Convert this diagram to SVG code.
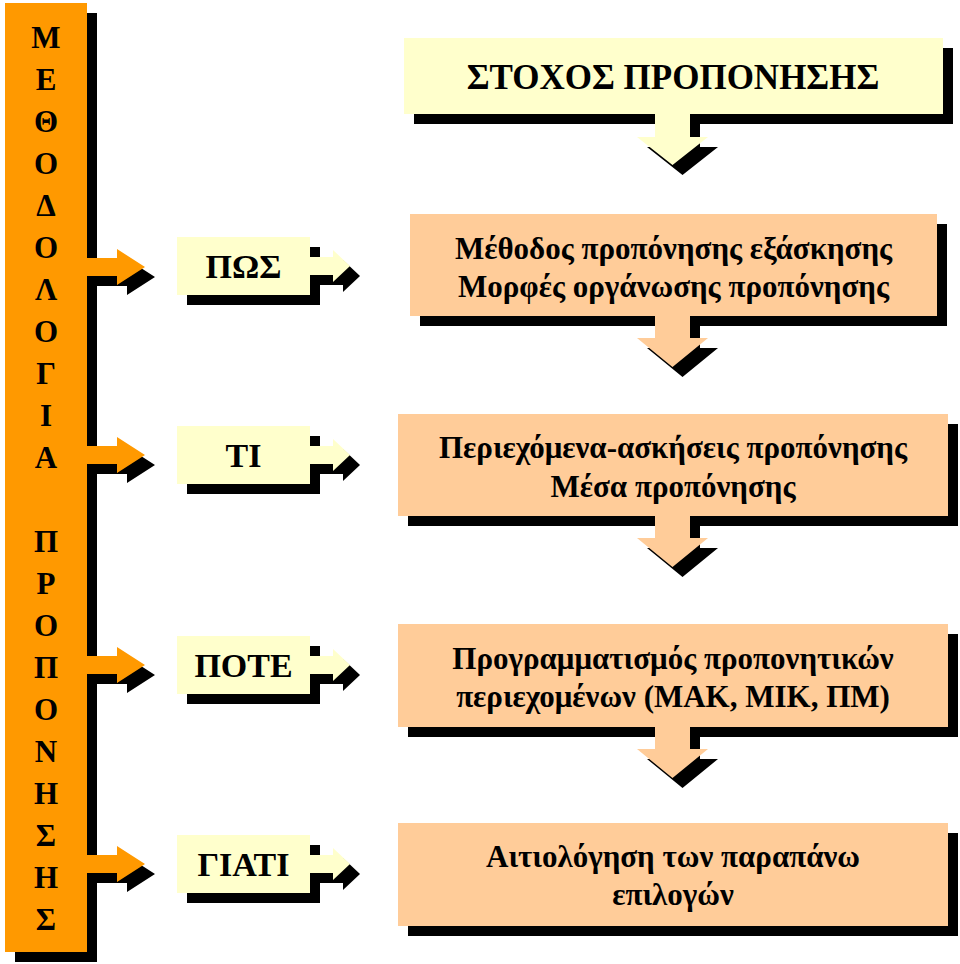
<svg xmlns="http://www.w3.org/2000/svg" width="960" height="964" viewBox="0 0 960 964">
<style>
.sh{fill:#000}
.or{fill:#FF9900}
.ly{fill:#FFFFCC}
.pe{fill:#FFCC99}
.t{font-family:"Liberation Serif","DejaVu Serif",serif;font-weight:bold;fill:#000;text-anchor:middle}
.bar{font-size:31px}
.sm{font-size:34px}
.big{font-size:31px}
.ttl{font-size:35px}
</style>
<defs>
<path id="smallCallout" d="M177,-29 H310 V-9 H333 V-16 L350,0 L333,16 V9 H310 V29 H177 Z"/>
</defs>
<rect width="960" height="964" fill="#fff"/>
<g id="bar">
<path class="sh" transform="translate(10,10)" d="M5,3 H87 V258 H117 V249 L145,267 L117,285 V276 H87 V446 H117 V437 L145,455 L117,473 V464 H87 V656 H117 V647 L145,665 L117,683 V674 H87 V855 H117 V846 L145,864 L117,882 V873 H87 V952 H5 Z"/>
<path class="or" d="M5,3 H87 V258 H117 V249 L145,267 L117,285 V276 H87 V446 H117 V437 L145,455 L117,473 V464 H87 V656 H117 V647 L145,665 L117,683 V674 H87 V855 H117 V846 L145,864 L117,882 V873 H87 V952 H5 Z"/>
<text class="t bar"><tspan x="46" y="48">Μ</tspan><tspan x="46" y="90">Ε</tspan><tspan x="46" y="132">Θ</tspan><tspan x="46" y="174">Ο</tspan><tspan x="46" y="216">Δ</tspan><tspan x="46" y="258">Ο</tspan><tspan x="46" y="300">Λ</tspan><tspan x="46" y="342">Ο</tspan><tspan x="46" y="384">Γ</tspan><tspan x="46" y="426">Ι</tspan><tspan x="46" y="468">Α</tspan><tspan x="46" y="552">Π</tspan><tspan x="46" y="594">Ρ</tspan><tspan x="46" y="636">Ο</tspan><tspan x="46" y="678">Π</tspan><tspan x="46" y="720">Ο</tspan><tspan x="46" y="762">Ν</tspan><tspan x="46" y="804">Η</tspan><tspan x="46" y="846">Σ</tspan><tspan x="46" y="888">Η</tspan><tspan x="46" y="930">Σ</tspan></text>
</g>
<g id="pos">
<use href="#smallCallout" class="sh" transform="translate(10,276)"/>
<use href="#smallCallout" class="ly" transform="translate(0,266)"/>
<text class="t sm" x="243.5" y="278">ΠΩΣ</text>
</g>
<g id="ti">
<use href="#smallCallout" class="sh" transform="translate(10,465)"/>
<use href="#smallCallout" class="ly" transform="translate(0,455)"/>
<text class="t sm" x="243.5" y="467">ΤΙ</text>
</g>
<g id="pote">
<use href="#smallCallout" class="sh" transform="translate(10,675)"/>
<use href="#smallCallout" class="ly" transform="translate(0,665)"/>
<text class="t sm" x="243.5" y="677">ΠΟΤΕ</text>
</g>
<g id="giati">
<use href="#smallCallout" class="sh" transform="translate(10,874)"/>
<use href="#smallCallout" class="ly" transform="translate(0,864)"/>
<text class="t sm" x="243.5" y="876">ΓΙΑΤΙ</text>
</g>
<g id="goal">
<path class="sh" transform="translate(10,10)" d="M404,38 H943 V114 H690 V137 H708 L672.5,165 L637,137 H655 V114 H404 Z"/>
<path class="ly" d="M404,38 H943 V114 H690 V137 H708 L672.5,165 L637,137 H655 V114 H404 Z"/>
<text class="t ttl" x="673" y="89">ΣΤΟΧΟΣ ΠΡΟΠΟΝΗΣΗΣ</text>
</g>
<g id="method">
<path class="sh" transform="translate(10,10)" d="M410,214 H937 V316 H690 V338 H708 L672.5,367 L637,338 H655 V316 H410 Z"/>
<path class="pe" d="M410,214 H937 V316 H690 V338 H708 L672.5,367 L637,338 H655 V316 H410 Z"/>
<text class="t big" x="673.5" y="259">Μέθοδος προπόνησης εξάσκησης</text>
<text class="t big" x="673.5" y="297">Μορφές οργάνωσης προπόνησης</text>
</g>
<g id="content">
<path class="sh" transform="translate(10,10)" d="M398,414 H948 V516 H690 V538 H708 L672.5,567 L637,538 H655 V516 H398 Z"/>
<path class="pe" d="M398,414 H948 V516 H690 V538 H708 L672.5,567 L637,538 H655 V516 H398 Z"/>
<text class="t big" x="673" y="458">Περιεχόμενα-ασκήσεις προπόνησης</text>
<text class="t big" x="673" y="497">Μέσα προπόνησης</text>
</g>
<g id="planning">
<path class="sh" transform="translate(10,10)" d="M398,624 H948 V727 H690 V749 H708 L672.5,778 L637,749 H655 V727 H398 Z"/>
<path class="pe" d="M398,624 H948 V727 H690 V749 H708 L672.5,778 L637,749 H655 V727 H398 Z"/>
<text class="t big" x="673" y="669">Προγραμματισμός προπονητικών</text>
<text class="t big" x="673" y="707">περιεχομένων (ΜΑΚ, ΜΙΚ, ΠΜ)</text>
</g>
<g id="justify">
<rect class="sh" x="408" y="833" width="550" height="103"/>
<rect class="pe" x="398" y="823" width="550" height="103"/>
<text class="t big" x="673" y="867">Αιτιολόγηση των παραπάνω</text>
<text class="t big" x="673" y="905">επιλογών</text>
</g>
<g id="connectors"></g>
</svg>
